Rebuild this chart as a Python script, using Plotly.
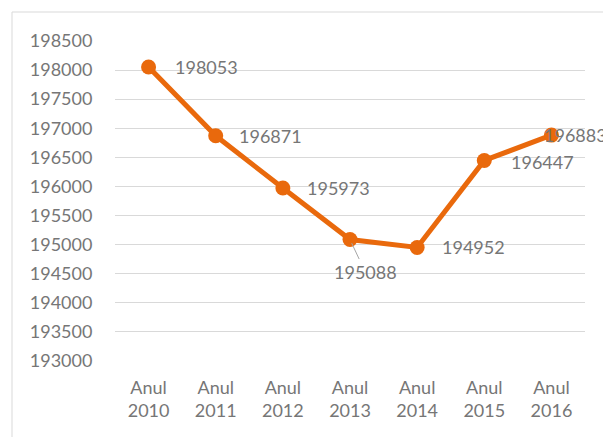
import plotly.graph_objects as go

categories = ["Anul<br>2010", "Anul<br>2011", "Anul<br>2012", "Anul<br>2013", "Anul<br>2014", "Anul<br>2015", "Anul<br>2016"]
values = [198053, 196871, 195973, 195088, 194952, 196447, 196883]
y_ticks = [193000, 193500, 194000, 194500, 195000, 195500, 196000, 196500, 197000, 197500, 198000, 198500]

ORANGE = "#E9690C"
GRAY = "#767676"
FONT = "Lato, 'Open Sans', sans-serif"

fig = go.Figure()
fig.add_trace(go.Scatter(
    x=categories, y=values, mode="lines+markers",
    line=dict(color=ORANGE, width=5),
    marker=dict(color=ORANGE, size=15),
    hoverinfo="skip",
))

# data labels: (xshift, yshift) or leader line offsets
label_pos = [(24, 0), (21, 0), (22, 0), None, (23, 0), (25, -2), (-9, 0)]
for c, v, pos in zip(categories, values, label_pos):
    if pos is None:
        fig.add_annotation(x=c, y=v, text=str(v), showarrow=True, arrowhead=0,
                           arrowwidth=1, arrowcolor="#A6A6A6", ax=15, ay=32, standoff=4,
                           font=dict(family=FONT, size=18, color=GRAY))
    else:
        fig.add_annotation(x=c, y=v, text=str(v), showarrow=False, xanchor="left",
                           xshift=pos[0], yshift=pos[1], font=dict(family=FONT, size=18, color=GRAY))

FW, FH = 603, 437
L, T, B = 115, 41, 76
R = FW - L - 470
W, H = FW - L - R, FH - T - B
bx, by = 12, 12  # chart border position in px
fig.add_shape(type="line", xref="paper", yref="paper",
              x0=(bx - L) / W, x1=(FW + 20 - L) / W, y0=(FH - by - B) / H, y1=(FH - by - B) / H,
              line=dict(color="#D9D9D9", width=1))
fig.add_shape(type="line", xref="paper", yref="paper",
              x0=(bx - L) / W, x1=(bx - L) / W, y0=(FH - by - B) / H, y1=(-20 - B) / H,
              line=dict(color="#D9D9D9", width=1))

fig.update_layout(
    width=FW, height=FH,
    margin=dict(l=L, r=R, t=T, b=B),
    paper_bgcolor="white", plot_bgcolor="white",
    showlegend=False,
    font=dict(family=FONT, size=18, color=GRAY),
)
fig.update_xaxes(type="category", range=[-0.5, 6.5], showgrid=False, showline=False,
                 ticks="outside", ticklen=10, tickcolor="rgba(0,0,0,0)",
                 tickfont=dict(family=FONT, size=18, color=GRAY), fixedrange=True)
fig.update_yaxes(range=[193000, 198500], tickvals=y_ticks, ticktext=[str(t) for t in y_ticks],
                 showgrid=True, gridcolor="#D9D9D9", gridwidth=1, zeroline=False, showline=False,
                 ticks="outside", ticklen=18, tickcolor="rgba(0,0,0,0)",
                 tickfont=dict(family=FONT, size=18, color=GRAY), fixedrange=True)

fig.write_html("out.html", config={"displayModeBar": False},
               post_script="document.body.style.margin='0';document.body.style.overflow='hidden';")
